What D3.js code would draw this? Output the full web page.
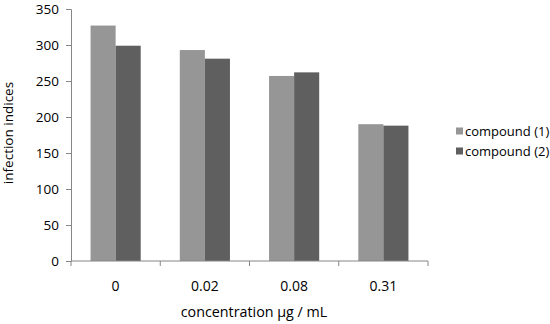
<!DOCTYPE html>
<html>
<head>
<meta charset="utf-8">
<script src="https://cdn.jsdelivr.net/npm/d3@7"></script>
<style>
  body { margin: 0; background: #fff; }
  text { font-family: "Open Sans", sans-serif; fill: #000; }
</style>
</head>
<body>
<div id="viz-container"></div>
<script>
// data
let concentrations = ["0", "0.02", "0.08", "0.31"];
let seriesNames = ["compound (1)", "compound (2)"];
let compound1 = [327, 293, 257, 190];
let compound2 = [299, 281, 262, 188];
let yTicks = [0, 50, 100, 150, 200, 250, 300, 350];

let colors = ["#969696", "#5f5f5f"];

let viz = d3.select("#viz-container")
    .append("svg")
    .attr("width", 550)
    .attr("height", 324)
;

let plotLeft = 71, plotRight = 428, plotTop = 9, plotBottom = 261;

let x = d3.scaleBand().domain(concentrations).range([plotLeft, plotRight]).paddingInner(0).paddingOuter(0);
let xInner = d3.scaleBand().domain(seriesNames).range([0, x.bandwidth()]).paddingInner(0).paddingOuter(0.78);
let y = d3.scaleLinear().domain([0, 350]).range([plotBottom, plotTop]);

let rows = concentrations.map((c, i) => ({cat: c, vals: [compound1[i], compound2[i]]}));

let groups = viz.selectAll(".datagroup").data(rows).enter()
    .append("g")
      .attr("class", "datagroup")
      .attr("transform", d => "translate(" + x(d.cat) + ",0)")
;

groups.selectAll("rect")
    .data(d => d.vals.map((v, j) => ({name: seriesNames[j], v: v, j: j})))
    .enter()
    .append("rect")
      .attr("x", d => xInner(d.name))
      .attr("width", xInner.bandwidth())
      .attr("y", d => y(d.v))
      .attr("height", d => y(0) - y(d.v))
      .attr("fill", d => colors[d.j])
;

// y axis
let yAxis = viz.append("g")
    .attr("transform", "translate(" + plotLeft + ",0)")
    .call(d3.axisLeft(y).tickValues(yTicks).tickSize(5).tickPadding(7));
yAxis.selectAll("line, path").attr("stroke", "#868686");
yAxis.selectAll("text").attr("font-size", 13.5).attr("font-family", "Open Sans").attr("fill", "#000");

// x axis (ticks between categories)
let xAxisG = viz.append("g");
xAxisG.append("line")
    .attr("x1", plotLeft).attr("x2", plotRight)
    .attr("y1", y(0)).attr("y2", y(0))
    .attr("stroke", "#868686");
xAxisG.selectAll(".xtick").data(concentrations.concat(["end"])).enter()
    .append("line")
      .attr("x1", (d, i) => plotLeft + i * x.step())
      .attr("x2", (d, i) => plotLeft + i * x.step())
      .attr("y1", y(0)).attr("y2", y(0) + 5)
      .attr("stroke", "#868686");
xAxisG.selectAll(".xlabel").data(concentrations).enter()
    .append("text")
      .attr("x", d => x(d) + x.bandwidth() / 2)
      .attr("y", 291)
      .attr("text-anchor", "middle")
      .attr("font-size", 14)
      .text(d => d);

// axis titles
viz.append("text")
    .attr("x", 254)
    .attr("y", 317)
    .attr("text-anchor", "middle")
    .attr("font-size", 14.3)
    .text("concentration µg / mL");

viz.append("text")
    .attr("transform", "translate(13,133) rotate(-90)")
    .attr("text-anchor", "middle")
    .attr("font-size", 13.5)
    .text("infection indices");

// legend
let legend = viz.selectAll(".legend").data(seriesNames).enter()
    .append("g")
      .attr("transform", (d, i) => "translate(456," + (131 + i * 20) + ")");
legend.append("rect")
    .attr("x", 0).attr("y", -3.5)
    .attr("width", 7).attr("height", 7)
    .attr("fill", (d, i) => colors[i]);
legend.append("text")
    .attr("x", 9)
    .attr("y", 4.5)
    .attr("font-size", 13)
    .text(d => d);
</script>
</body>
</html>
